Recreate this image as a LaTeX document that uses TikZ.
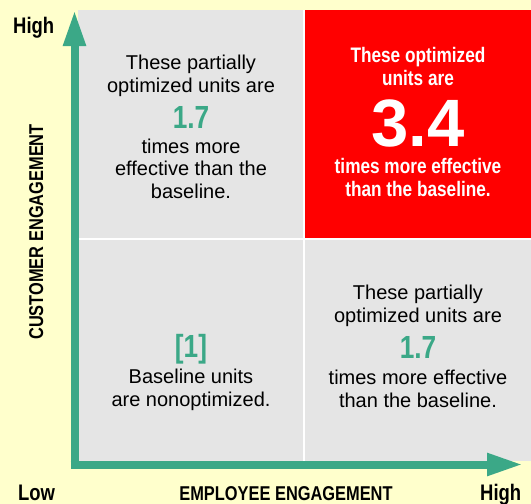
\documentclass[tikz,border=0pt]{standalone}
\usepackage{fontspec}
\setmainfont{Liberation Sans}
\newfontfamily\condfont{Liberation Sans}[FakeStretch=0.82]
\usetikzlibrary{arrows.meta,positioning}
\definecolor{paper}{HTML}{FFFFCC}
\definecolor{axisgreen}{HTML}{3BA887}
\definecolor{cellgray}{HTML}{E5E5E5}
\definecolor{hotred}{HTML}{FF0000}
\tikzset{
  body/.style={align=center, inner sep=0pt, text=black,
    font=\fontsize{20}{22.5}\selectfont},
  redbody/.style={align=center, inner sep=0pt, text=white,
    font=\condfont\bfseries\fontsize{21}{22.5}\selectfont},
  factor/.style={inner sep=0pt, text=axisgreen,
    font=\condfont\bfseries\fontsize{32}{32}\selectfont},
  bigfactor/.style={inner sep=0pt, text=white,
    font=\bfseries\fontsize{67}{67}\selectfont},
  axislabel/.style={inner sep=0pt, text=black,
    font=\condfont\bfseries\fontsize{20}{22}\selectfont},
  endlabel/.style={axislabel, font=\condfont\bfseries\fontsize{22.5}{24}\selectfont},
  axisarrow/.style={draw=axisgreen, line width=8pt,
    -{Triangle[length=36pt,width=21pt]}},
}
\begin{document}
\begin{tikzpicture}[x=1pt,y=-1pt]
  \useasboundingbox[fill=paper] (0,0) rectangle (531,504);
  % the four cells
  \fill[cellgray] (78,10) rectangle (531,461);
  \fill[hotred] (305,10) rectangle (531,238);
  \draw[white, line width=1.5pt] (304,10) -- (304,461);
  \draw[white, line width=1.5pt] (78,239) -- (531,239);

  % axes
  \coordinate (origin) at (74.5,468);
  \coordinate (ytip) at (74.5,10);
  \coordinate (xstart) at (70.5,464.5);
  \coordinate (xtip) at (523,464.5);
  \draw[axisarrow] (origin) -- (ytip);
  \draw[axisarrow] (xstart) -- (xtip);

  \node[endlabel, anchor=base west] (yhigh) at (13,33) {High};
  \node[endlabel, anchor=base west] (xlow) at (18,500) {Low};
  \node[axislabel, anchor=base] (xtitle) at (286,500) {EMPLOYEE ENGAGEMENT};
  \node[endlabel, anchor=base west] (xhigh) at (480,500) {High};
  \node[axislabel, rotate=90, anchor=base] (ytitle) at (43,232) {CUSTOMER ENGAGEMENT};

  % top left (base = last line)
  \node[body, anchor=base] (tltop) at (191,92) {These partially\\optimized units are};
  \node[factor, anchor=base] (tlnum) at (191,128) {1.7};
  \node[body, anchor=base] (tlbot) at (191,198) {times more\\effective than the\\baseline.};

  % top right
  \node[redbody, anchor=base] (trtop) at (418,85) {These optimized\\units are};
  \node[bigfactor, anchor=base] (trnum) at (418,146) {3.4};
  \node[redbody, anchor=base] (trbot) at (418,196) {times more effective\\than the baseline.};

  % bottom left
  \node[factor, anchor=base] (blnum) at (191,357) {[1]};
  \node[body, anchor=base] (blbot) at (191,406) {Baseline units\\are nonoptimized.};

  % bottom right
  \node[body, anchor=base] (brtop) at (418,322) {These partially\\optimized units are};
  \node[factor, anchor=base] (brnum) at (418,358) {1.7};
  \node[body, anchor=base] (brbot) at (418,407) {times more effective\\than the baseline.};
\end{tikzpicture}
\end{document}
